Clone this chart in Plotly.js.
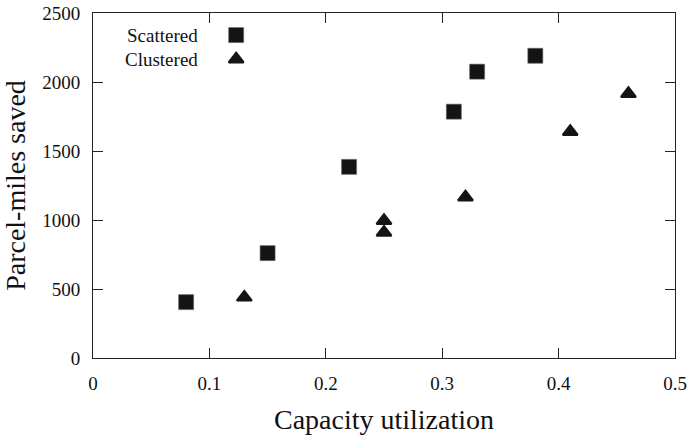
<!DOCTYPE html>
<html>
<head>
<meta charset="utf-8">
<script src="https://cdn.plot.ly/plotly-3.0.1.min.js"></script>
<style>html,body{margin:0;padding:0;background:#fff}#chart{width:690px;height:438px}</style>
</head>
<body>
<div id="chart"></div>
<script>
// Data
const scatteredX = [0.08, 0.15, 0.22, 0.31, 0.33, 0.38];
const scatteredY = [405, 760, 1385, 1785, 2075, 2190];
const clusteredX = [0.13, 0.25, 0.25, 0.32, 0.41, 0.46];
const clusteredY = [440, 995, 910, 1165, 1640, 1915];
const seriesNames = ["Scattered", "Clustered"];
const xTicks = [0, 0.1, 0.2, 0.3, 0.4, 0.5];
const xTickLabels = ["0", "0.1", "0.2", "0.3", "0.4", "0.5"];
const yTicks = [0, 500, 1000, 1500, 2000, 2500];
const yTickLabels = ["0", "500", "1000", "1500", "2000", "2500"];

const FONT = 'Liberation Serif, Times New Roman, DejaVu Serif, serif';
const MARK = '#141414';

// legend key positions (fractions of plot area, on an overlay axis)
const legendKeyX = [0.246, 0.246];
const legendKeyY = [0.936, 0.866];

const traces = [
  {x: scatteredX, y: scatteredY, type: 'scatter', mode: 'markers', name: seriesNames[0],
   marker: {symbol: 'square', size: 15, color: MARK, line: {width: 0.6, color: '#666'}}},
  {x: clusteredX, y: clusteredY, type: 'scatter', mode: 'markers', name: seriesNames[1],
   marker: {symbol: 'triangle-up', size: 13, color: MARK, line: {width: 2, color: MARK}}},
  {x: [legendKeyX[0]], y: [legendKeyY[0]], xaxis: 'x2', yaxis: 'y2', type: 'scatter', mode: 'markers',
   showlegend: false, hoverinfo: 'skip',
   marker: {symbol: 'square', size: 15, color: MARK, line: {width: 0.6, color: '#666'}}},
  {x: [legendKeyX[1]], y: [legendKeyY[1]], xaxis: 'x2', yaxis: 'y2', type: 'scatter', mode: 'markers',
   showlegend: false, hoverinfo: 'skip',
   marker: {symbol: 'triangle-up', size: 13, color: MARK, line: {width: 2, color: MARK}}}
];

const axisCommon = {
  showline: true, linecolor: '#222', linewidth: 1, mirror: 'ticks',
  ticks: 'inside', ticklen: 10, tickwidth: 1, tickcolor: '#222',
  showgrid: false, zeroline: false,
  tickfont: {family: FONT, size: 19, color: '#111'}
};

const layout = {
  width: 690, height: 438,
  margin: {l: 93, r: 15, t: 13, b: 80},
  paper_bgcolor: '#fff', plot_bgcolor: '#fff',
  showlegend: false,
  font: {family: FONT, color: '#111'},
  xaxis: Object.assign({}, axisCommon, {
    range: [0, 0.5], tickvals: xTicks, ticktext: xTickLabels, ticklabelstandoff: 8,
    title: {text: 'Capacity utilization', font: {family: FONT, size: 28, color: '#111'}, standoff: 16}
  }),
  yaxis: Object.assign({}, axisCommon, {
    range: [0, 2500], tickvals: yTicks, ticktext: yTickLabels, ticklabelstandoff: 8,
    title: {text: 'Parcel-miles saved', font: {family: FONT, size: 28, color: '#111'}, standoff: 9}
  }),
  xaxis2: {overlaying: 'x', range: [0, 1], visible: false, fixedrange: true},
  yaxis2: {overlaying: 'y', range: [0, 1], visible: false, fixedrange: true},
  annotations: [
    {xref: 'paper', yref: 'paper', x: 0.184, y: legendKeyY[0], xanchor: 'right', yanchor: 'middle',
     text: seriesNames[0], showarrow: false, font: {family: FONT, size: 19, color: '#111'}},
    {xref: 'paper', yref: 'paper', x: 0.184, y: legendKeyY[1], xanchor: 'right', yanchor: 'middle',
     text: seriesNames[1], showarrow: false, font: {family: FONT, size: 19, color: '#111'}}
  ]
};

Plotly.newPlot('chart', traces, layout, {displayModeBar: false, staticPlot: true});
</script>
</body>
</html>
